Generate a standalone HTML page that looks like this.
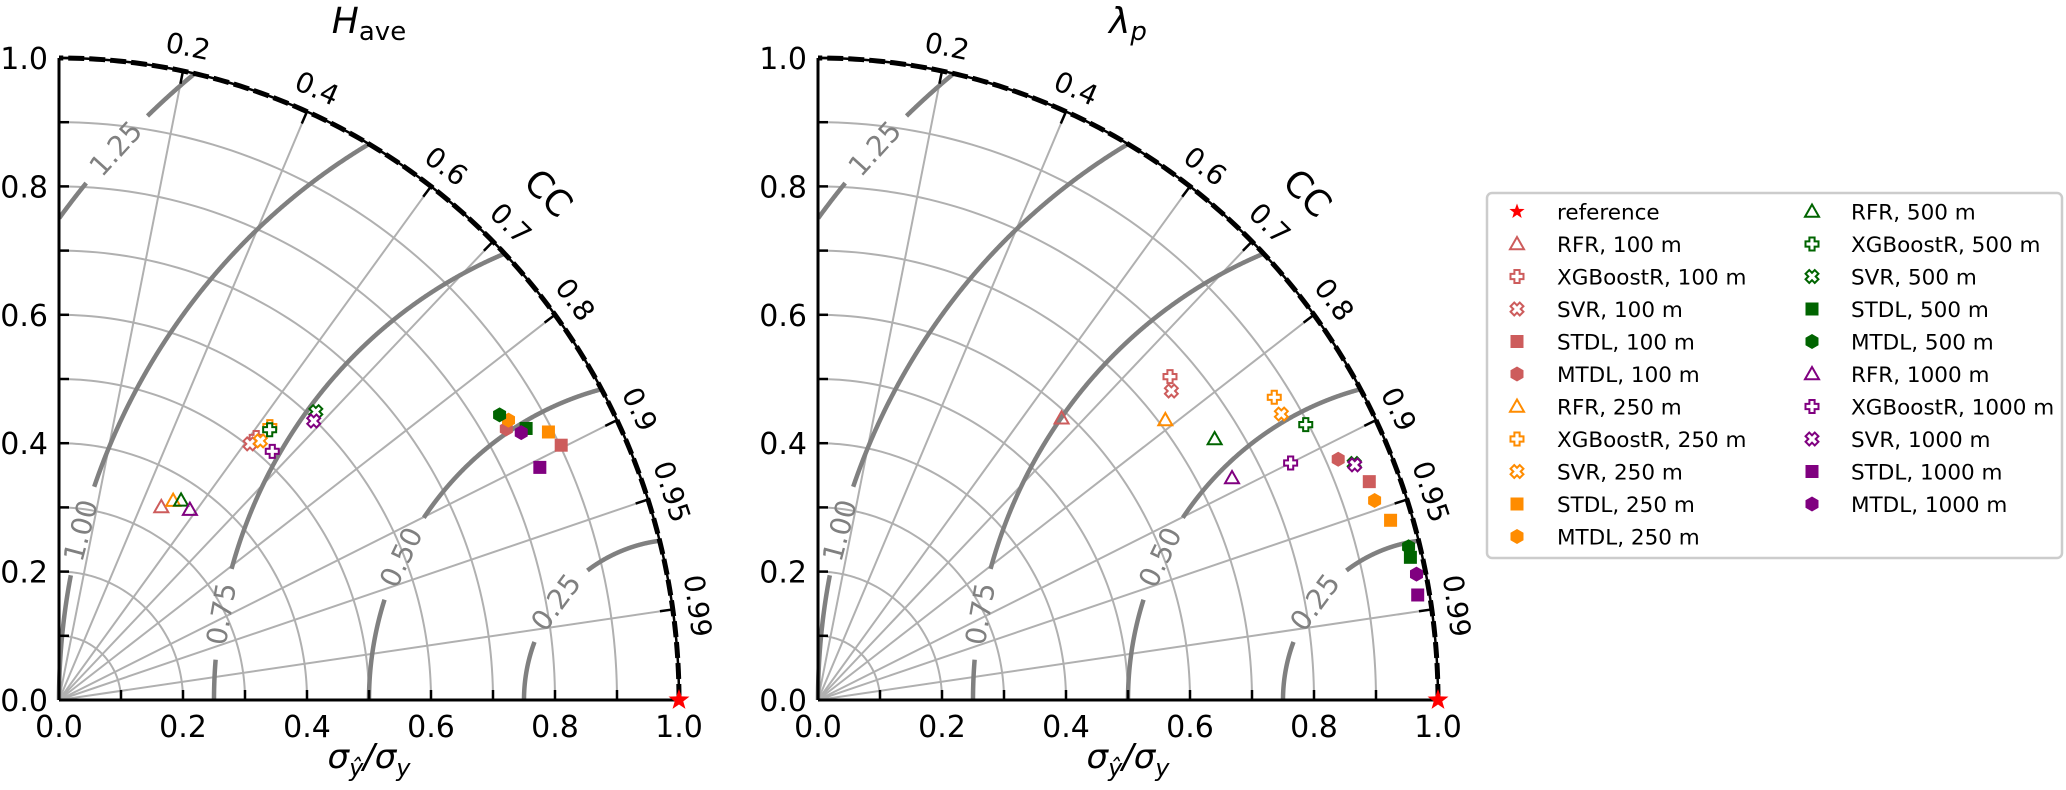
<!DOCTYPE html>
<html><head><meta charset="utf-8"><style>
html,body{margin:0;padding:0;background:#fff;}
svg{display:block;font-family:"DejaVu Sans","Liberation Sans",sans-serif;}
</style></head><body>
<svg id="fig" width="2066" height="790" viewBox="0 0 2066 790" xmlns="http://www.w3.org/2000/svg">
<rect width="2066" height="790" fill="#fff"/>
</svg>
<script>
// ---- data ----
const seriesNames = ["RFR, 100 m","XGBoostR, 100 m","SVR, 100 m","STDL, 100 m","MTDL, 100 m",
 "RFR, 250 m","XGBoostR, 250 m","SVR, 250 m","STDL, 250 m","MTDL, 250 m",
 "RFR, 500 m","XGBoostR, 500 m","SVR, 500 m","STDL, 500 m","MTDL, 500 m",
 "RFR, 1000 m","XGBoostR, 1000 m","SVR, 1000 m","STDL, 1000 m","MTDL, 1000 m"];
const seriesMarkers = ["tri","plus","x","sq","hex","tri","plus","x","sq","hex","tri","plus","x","sq","hex","tri","plus","x","sq","hex"];
const seriesColors = ["#cd5c5c","#cd5c5c","#cd5c5c","#cd5c5c","#cd5c5c","#ff8c00","#ff8c00","#ff8c00","#ff8c00","#ff8c00",
 "#006400","#006400","#006400","#006400","#006400","#800080","#800080","#800080","#800080","#800080"];
const haveStd = [0.343,0.518,0.504,0.902,0.836, 0.361,0.545,0.518,0.893,0.846, 0.368,0.541,0.611,0.864,0.838, 0.364,0.518,0.598,0.856,0.854];
const haveCorr = [0.481,0.614,0.611,0.898,0.863, 0.510,0.624,0.627,0.884,0.857, 0.535,0.628,0.678,0.872,0.848, 0.580,0.664,0.687,0.906,0.873];
const lamStd = [0.589,0.759,0.746,0.952,0.919, 0.710,0.874,0.870,0.965,0.950, 0.758,0.896,0.940,0.981,0.982, 0.752,0.847,0.940,0.981,0.985];
const lamCorr = [0.667,0.748,0.764,0.934,0.913, 0.789,0.842,0.859,0.957,0.945, 0.844,0.878,0.920,0.974,0.970, 0.888,0.900,0.921,0.986,0.980];
const ccTicks = [0.2,0.4,0.6,0.7,0.8,0.9,0.95,0.99];
const ccTickLabels = ["0.2","0.4","0.6","0.7","0.8","0.9","0.95","0.99"];
const stdTicks = [0.0,0.2,0.4,0.6,0.8,1.0];
const stdTickLabels = ["0.0","0.2","0.4","0.6","0.8","1.0"];
const rmsLevels = [0.25,0.5,0.75,1.0,1.25];
const rmsLabels = ["0.25","0.50","0.75","1.00","1.25"];
const rmsLabelPhi = [142.5,153.6,169.7,164.7,136.6];

const NS="http://www.w3.org/2000/svg";
const svg=document.getElementById('fig');
function mk(tag,attrs,parent){const e=document.createElementNS(NS,tag);for(const k in attrs)e.setAttribute(k,attrs[k]);(parent||svg).appendChild(e);return e;}
const RX=620, RY=642;

function marker(g,type,cx,cy,color,big){
  let e;const s=7;
  if(type==="tri"){
    e=mk('polygon',{points:`${cx},${cy-s} ${cx-s},${cy+s*0.75} ${cx+s},${cy+s*0.75}`,fill:'none',stroke:color,'stroke-width':2},g);
  }else if(type==="plus"||type==="x"){
    const a=2.6,b=6.5;
    let pts=[[-a,-b],[a,-b],[a,-a],[b,-a],[b,a],[a,a],[a,b],[-a,b],[-a,a],[-b,a],[-b,-a],[-a,-a]];
    if(type==="x"){const c=Math.SQRT1_2;pts=pts.map(p=>[(p[0]-p[1])*c,(p[0]+p[1])*c]);}
    e=mk('polygon',{points:pts.map(p=>(cx+p[0])+','+(cy+p[1])).join(' '),fill:'#fff',stroke:color,'stroke-width':2},g);
  }else if(type==="sq"){
    e=mk('rect',{x:cx-6.5,y:cy-6.5,width:13,height:13,fill:color},g);
  }else if(type==="hex"){
    let pts=[];for(let i=0;i<6;i++){const an=Math.PI/2+i*Math.PI/3;pts.push((cx+7.5*Math.cos(an))+','+(cy-7.5*Math.sin(an)));}
    e=mk('polygon',{points:pts.join(' '),fill:color},g);
  }else if(type==="star"){
    const R=big?11:8,r=big?4.5:3.3;
    let pts=[];for(let i=0;i<10;i++){const an=Math.PI/2+i*Math.PI/5;const rr=i%2?r:R;pts.push((cx+rr*Math.cos(an))+','+(cy-rr*Math.sin(an)));}
    e=mk('polygon',{points:pts.join(' '),fill:color},g);
  }
  return e;
}

function drawPlot(ox,oy,stds,corrs,titleMain,titleSub,subItalic,prefix){
  const P=(x,y)=>[ox+x*RX,oy-y*RY];
  const g=mk('g',{});
  
  
  for(let i=1;i<=9;i++){
    const r=i/10;let pts=[];
    for(let k=0;k<=90;k++){const t=k*Math.PI/180;const p=P(r*Math.cos(t),r*Math.sin(t));pts.push(p.join(','));}
    const a=mk('polyline',{points:pts.join(' '),fill:'none',stroke:'#b0b0b0','stroke-width':2},g);
    
    
  }
  ccTicks.forEach(c=>{
    const s=Math.sqrt(1-c*c);const p=P(c,s);
    const l=mk('line',{x1:ox,y1:oy,x2:p[0],y2:p[1],stroke:'#b0b0b0','stroke-width':2},g);
    
    
  });
  rmsLevels.forEach((R,i)=>{
    const phiL=rmsLabelPhi[i]*Math.PI/180;
    const gapPx=44;
    const half=gapPx/(R*RX);
    let segs=[[]];
    for(let k=0;k<=1800;k++){
      const phi=k*Math.PI/1800;
      const x=1+R*Math.cos(phi),y=R*Math.sin(phi);
      const inside=(x>=-1e-9 && x*x+y*y<=1.0000001);
      const inGap=Math.abs(phi-phiL)<half;
      if(inside&&!inGap){segs[segs.length-1].push(P(x,y).join(','));}
      else if(segs[segs.length-1].length){segs.push([]);}
    }
    segs.forEach(sg=>{if(sg.length>1){
      const pl=mk('polyline',{points:sg.join(' '),fill:'none',stroke:'#808080','stroke-width':4.5},g);
      
      
    }});
    const lp=P(1+R*Math.cos(phiL),R*Math.sin(phiL));
    let tx=-Math.sin(phiL)*RX,ty=-Math.cos(phiL)*RY;
    let ang=Math.atan2(ty,tx)*180/Math.PI;
    if(ang>90)ang-=180;if(ang<-90)ang+=180;
    const t=mk('text',{x:lp[0],y:lp[1],'font-size':28,fill:'#808080','text-anchor':'middle','dominant-baseline':'central',transform:`rotate(${ang} ${lp[0]} ${lp[1]})`},g);
    t.textContent=rmsLabels[i];
    
    
  });
  let ax=mk('line',{x1:ox,y1:oy,x2:ox,y2:oy-RY,stroke:'#000','stroke-width':3},g);
  
  
  ax=mk('line',{x1:ox,y1:oy,x2:ox+RX,y2:oy,stroke:'#000','stroke-width':3},g);
  
  
  for(let i=1;i<=10;i++){
    mk('line',{x1:ox+i*RX/10,y1:oy,x2:ox+i*RX/10,y2:oy-10,stroke:'#000','stroke-width':2.5},g);
    mk('line',{x1:ox,y1:oy-i*RY/10,x2:ox+10,y2:oy-i*RY/10,stroke:'#000','stroke-width':2.5},g);
  }
  stdTicks.forEach((v,i)=>{
    const t=mk('text',{x:ox+v*RX,y:oy+37,'font-size':30,'text-anchor':'middle',fill:'#000'},g);
    t.textContent=stdTickLabels[i];
    
    
    const t2=mk('text',{x:ox-11,y:oy-v*RY+11,'font-size':30,'text-anchor':'end',fill:'#000'},g);
    t2.textContent=stdTickLabels[i];
    
    
  });
  let pts=[];for(let k=0;k<=180;k++){const t=k*Math.PI/360;pts.push(P(Math.cos(t),Math.sin(t)).join(','));}
  mk('polyline',{points:pts.join(' '),fill:'none',stroke:'#000','stroke-width':2.5},g);
  const oa=mk('polyline',{points:pts.join(' '),fill:'none',stroke:'#000','stroke-width':5,'stroke-dasharray':'16,5'},g);
  
  
  ccTicks.forEach((c,i)=>{
    const s=Math.sqrt(1-c*c);
    const p1=P(c,s);const p2=[ox+c*(RX-13),oy-s*(RY-13)];
    mk('line',{x1:p1[0],y1:p1[1],x2:p2[0],y2:p2[1],stroke:'#000','stroke-width':2.5},g);
    const lp=[ox+c*(RX+25),oy-s*(RY+25)];
    const th=Math.acos(c)*180/Math.PI;
    const t=mk('text',{x:lp[0],y:lp[1],'font-size':28,'text-anchor':'middle','dominant-baseline':'central',fill:'#000',transform:`rotate(${90-th} ${lp[0]} ${lp[1]})`},g);
    t.textContent=ccTickLabels[i];
    
    
  });
  const ccp=[ox+0.7071*1.115*RX,oy-0.7071*1.115*RY];
  const cc=mk('text',{x:ccp[0],y:ccp[1],'font-size':36,'text-anchor':'middle','dominant-baseline':'central',fill:'#000',transform:`rotate(45 ${ccp[0]} ${ccp[1]})`},g);
  cc.textContent='CC';
  
  
  const ti=mk('text',{x:ox+RX*0.5,y:33,'font-size':36,'text-anchor':'middle',fill:'#000'},g);
  
  
  const a1=mk('tspan',{'font-style':'italic'},ti);a1.textContent=titleMain;
  const a2=mk('tspan',{'font-size':26,dy:7,'font-style':subItalic?'italic':'normal'},ti);a2.textContent=titleSub;
  const xl=mk('text',{x:ox+RX*0.5,y:768,'font-size':34,'text-anchor':'middle',fill:'#000','font-style':'italic'},g);
  
  
  let s1=mk('tspan',{},xl);s1.textContent='σ';
  s1=mk('tspan',{'font-size':24,dy:8},xl);s1.textContent='ŷ';
  s1=mk('tspan',{dy:-8},xl);s1.textContent='/σ';
  s1=mk('tspan',{'font-size':24,dy:8},xl);s1.textContent='y';
  const pg=mk('g',{},g);
  stds.forEach((sd,i)=>{
    const c=corrs[i];const p=P(sd*c,sd*Math.sqrt(1-c*c));
    const m=marker(pg,seriesMarkers[i],p[0],p[1],seriesColors[i]);
    
    
  });
  const rs=marker(pg,'star',ox+RX,oy,'#ff0000',true);
  
  
}
drawPlot(59,700,haveStd,haveCorr,'H','ave',false,'have');
drawPlot(818,700,lamStd,lamCorr,'λ','p',true,'lambda-p');

const lg=mk('g',{});


mk('rect',{x:1487,y:193,width:575,height:365,rx:5,fill:'#fff',stroke:'#cccccc','stroke-width':2.5},lg);
const legNames=["reference"].concat(seriesNames);
const legMarkers=["star"].concat(seriesMarkers);
const legColors=["#ff0000"].concat(seriesColors);
legNames.forEach((n,i)=>{
  const col=i<11?0:1;const row=i<11?i:i-11;
  const mx=col?1812:1517, tx=col?1851:1557, y=211.5+row*32.5;
  const ent=mk('g',{},lg);
  
  
  const m=marker(ent,legMarkers[i],mx,y,legColors[i]);
  
  
  const t=mk('text',{x:tx,y:y+8,'font-size':21.5,fill:'#000'},ent);
  t.textContent=n;
  
  
});
</script>
</body></html>
